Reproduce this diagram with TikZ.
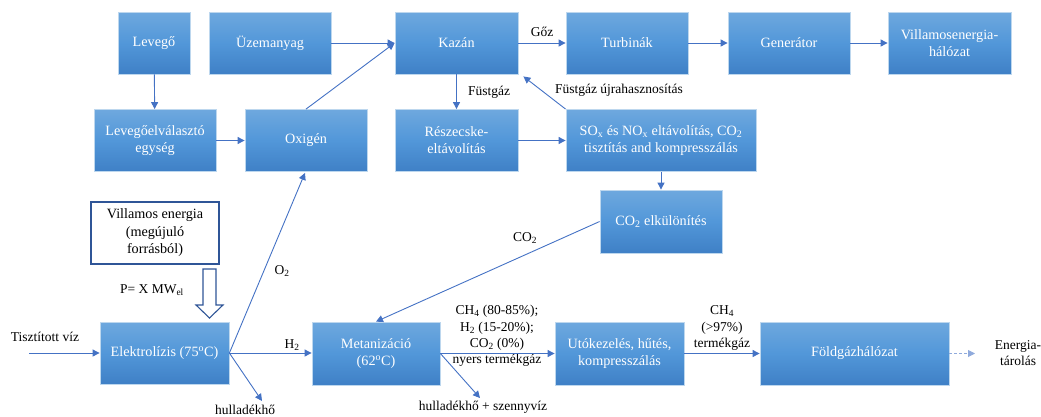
\documentclass[tikz,border=0pt]{standalone}
\usepackage{fontspec}
\setmainfont{Liberation Serif}
\usetikzlibrary{arrows.meta,calc}
\definecolor{boxtop}{HTML}{6EA8DE}
\definecolor{boxmid}{HTML}{5297D9}
\definecolor{boxbot}{HTML}{3F80C6}
\definecolor{boxedge}{HTML}{BDD7EE}
\definecolor{flowblue}{HTML}{4472C4}
\definecolor{darkblue}{HTML}{2F5597}
\begin{document}
\begin{tikzpicture}[x=1pt,y=-1pt,
  proc/.style={draw=boxedge, line width=0.8pt, top color=boxtop, bottom color=boxbot,
    middle color=boxmid, text=white, font=\fontsize{14.2}{17}\selectfont,
    align=center, inner sep=0pt, minimum height=62pt},
  outl/.style={draw=darkblue, line width=1.1pt, fill=white, text=black,
    font=\fontsize{14.2}{17.5}\selectfont, align=center, inner sep=0pt,
    minimum height=62pt},
  lbl/.style={font=\fontsize{13.5}{16.3}\selectfont, align=center, inner sep=0pt},
  flow/.style={draw=flowblue, line width=0.9pt, -{Triangle[length=7pt,width=7pt]}},
  hollow/.style={draw=darkblue, line width=1.1pt, fill=white, line join=miter},
]
\useasboundingbox (0,0) rectangle (1041,416);

% --- power plant row ---
\node[proc, minimum width=72pt]  (lev)   at (154,43)    {Levegő};
\node[proc, minimum width=122pt] (uzem)  at (270,43)    {Üzemanyag};
\node[proc, minimum width=123pt] (kazan) at (456.5,43)  {Kazán};
\node[proc, minimum width=122pt] (turb)  at (627,43)    {Turbinák};
\node[proc, minimum width=122pt] (gen)   at (789,43)    {Generátor};
\node[proc, minimum width=123pt] (vill)  at (949.5,43)  {Villamosenergia-\\hálózat};

% --- gas treatment row ---
\node[proc, minimum width=122pt] (levsep) at (155,140.5) {Levegőelválasztó\\egység};
\node[proc, minimum width=122pt] (oxi)    at (306,140.5) {Oxigén};
\node[proc, minimum width=123pt] (resz)   at (456.5,140.5) {Részecske-\\eltávolítás};
\node[proc, minimum width=190pt] (sox)    at (661,140.5)
  {SO\textsubscript{x} és NO\textsubscript{x} eltávolítás, CO\textsubscript{2}\\tisztítás and kompresszálás};
\node[proc, minimum width=122pt, minimum height=63pt] (co2) at (661,221.5) {CO\textsubscript{2} elkülönítés};

% --- power-to-gas row ---
\node[outl, minimum width=128pt] (ve)   at (155,233)   {Villamos energia\\(megújuló\\forrásból)};
\node[proc, minimum width=129pt] (elek) at (164.5,353) {Elektrolízis (75\textsuperscript{o}C)};
\node[proc, minimum width=128pt, minimum height=63pt] (met)  at (376,353.5) {Metanizáció\\(62\textsuperscript{o}C)};
\node[proc, minimum width=129pt, minimum height=63pt] (uto)  at (619.5,353.5) {Utókezelés, hűtés,\\kompresszálás};
\node[proc, minimum width=189pt, minimum height=63pt] (fold) at (854.5,353.5) {Földgázhálózat};

% --- free labels ---
\node[lbl] (viz)   at (45,337)   {Tisztított víz};
\node[lbl] (hh1)   at (245,410)  {hulladékhő};
\node[lbl] (hh2)   at (483,407)  {hulladékhő + szennyvíz};
\node[lbl] (tarol) at (1018,353) {Energia-\\tárolás};
\node[lbl] at (542,32)  {Gőz};
\node[lbl] at (489,92)  {Füstgáz};
\node[lbl] at (619,90)  {Füstgáz újrahasznosítás};
\node[lbl] at (525,238) {CO\textsubscript{2}};
\node[lbl] at (282,271) {O\textsubscript{2}};
\node[lbl] at (292,345) {H\textsubscript{2}};
\node[lbl] at (152,290) {P= X MW\textsubscript{el}};
\node[lbl] at (497,336) {CH\textsubscript{4} (80-85\%);\\H\textsubscript{2} (15-20\%);\\CO\textsubscript{2} (0\%)\\nyers termékgáz};
\node[lbl] at (722,328) {CH\textsubscript{4}\\(>97\%)\\termékgáz};

% --- connector end points ---
\coordinate (vizstart) at (29,353);
\coordinate (hh1tip) at (262,401);
\coordinate (hh2tip) at (480,398);
\coordinate (tartip) at (975,353.5);
\coordinate (kazanret) at ($(kazan.south east)+(5,2)$);

% --- connectors ---
\draw[flow] (lev) -- (levsep);
\draw[flow] (uzem) -- (kazan.west);
\draw[flow] (oxi.north) -- (kazan.west);
\draw[flow] (kazan) -- (turb);
\draw[flow] (turb) -- (gen);
\draw[flow] (gen) -- (vill);
\draw[flow] (kazan) -- (resz);
\draw[flow] (levsep) -- (oxi);
\draw[flow] (resz) -- (sox);
\draw[flow] (sox.north west) -- (kazanret);
\draw[flow] (sox.south -| co2.north) -- (co2.north);
\draw[flow] (co2.west) -- (met.north);
\draw[flow] (vizstart) -- (elek.west);
\draw[flow] (elek.east) -- ($(oxi.south)+(-1,1)$);
\draw[flow] (elek.east) -- (met.west |- elek.east);
\draw[flow] (elek.east) -- (hh1tip);
\draw[flow] (met.east) -- (uto.west);
\draw[flow] (met.east) -- (hh2tip);
\draw[flow] (uto.east) -- (fold.west);
\draw[flow, draw=flowblue!60, dash pattern=on 3pt off 2pt] (fold.east) -- (tartip);

% --- hollow power input arrow ---
\draw[hollow] (203,269) -- (216,269) -- (216,305) -- (223,305) -- (209.5,318)
  -- (196,305) -- (203,305) -- cycle;
\end{tikzpicture}
\end{document}
